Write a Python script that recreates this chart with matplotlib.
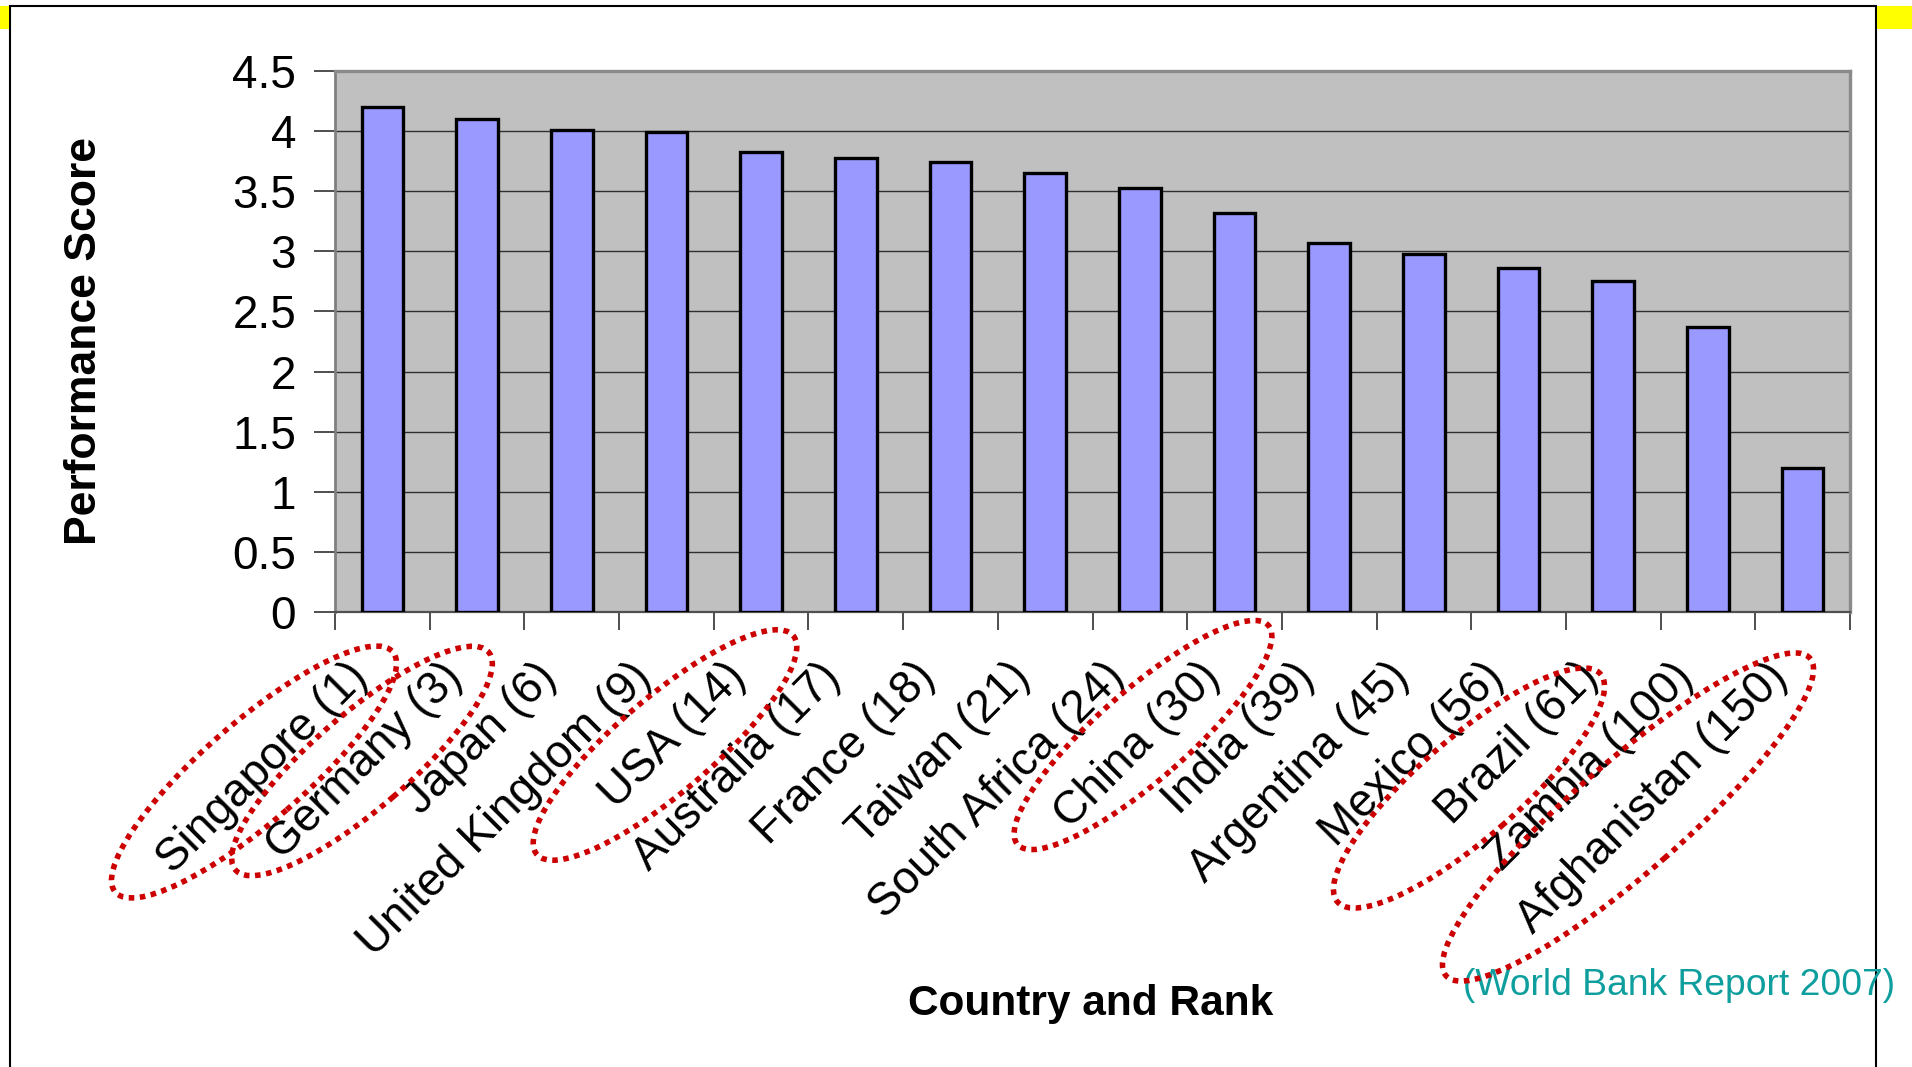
import matplotlib
matplotlib.use("Agg")
from matplotlib import pyplot as plt
from matplotlib.patches import Ellipse, Rectangle
from matplotlib.transforms import IdentityTransform
import numpy as np

countries = ['Singapore (1)', 'Germany (3)', 'Japan (6)', 'United Kingdom (9)', 'USA (14)',
             'Australia (17)', 'France (18)', 'Taiwan (21)', 'South Africa (24)', 'China (30)',
             'India (39)', 'Argentina (45)', 'Mexico (56)', 'Brazil (61)', 'Zambia (100)',
             'Afghanistan (150)']
scores = [4.20, 4.10, 4.01, 3.99, 3.83, 3.78, 3.74, 3.65, 3.53, 3.32,
          3.07, 2.98, 2.86, 2.75, 2.37, 1.20]
y_ticks = [0, 0.5, 1, 1.5, 2, 2.5, 3, 3.5, 4, 4.5]
y_tick_labels = ['0', '0.5', '1', '1.5', '2', '2.5', '3', '3.5', '4', '4.5']
source = '(World Bank Report 2007)'

W, H = 1912, 1067
plt.rcParams['font.family'] = ['Liberation Sans', 'DejaVu Sans']

fig = plt.figure(figsize=(W / 100, H / 100), dpi=100)
fig.patch.set_facecolor('white')
ax = fig.add_axes([335 / W, 1 - 612 / H, (1850 - 335) / W, (612 - 71) / H])
ax.set_facecolor('#C0C0C0')

x = np.arange(len(countries))
ax.bar(x, scores, width=0.44, color='#9999FF', edgecolor='black', linewidth=2.4, zorder=3)

ax.set_xlim(-0.5, len(countries) - 0.5)
ax.set_ylim(0, 4.5)
ax.set_yticks(y_ticks)
ax.set_yticklabels(y_tick_labels)
ax.set_xticks(np.arange(-0.5, len(countries), 1))
ax.set_xticklabels([])
ax.tick_params(axis='x', length=13, width=1.3, color='#404040', direction='out')
ax.tick_params(axis='y', length=15, width=1.3, color='#404040', direction='out',
               pad=13, labelsize=33)
ax.yaxis.grid(True, color='#303030', linewidth=1.0)
ax.set_axisbelow(True)

for side in ['top', 'right']:
    ax.spines[side].set_color('#8a8a8a')
    ax.spines[side].set_linewidth(2.4)
ax.spines['left'].set_color('#808080')
ax.spines['left'].set_linewidth(2.0)
ax.spines['bottom'].set_color('#505050')
ax.spines['bottom'].set_linewidth(1.6)

for i, name in enumerate(countries):
    ax.annotate(name, xy=(i, 0), xycoords='data', xytext=(-22, -58),
                textcoords='offset pixels', ha='right', va='center',
                rotation=45, rotation_mode='anchor', fontsize=33, annotation_clip=False)

fig.text(85 / W, 1 - 341 / H, 'Performance Score', rotation=90, ha='center', va='center',
         fontsize=32, fontweight='bold')
fig.text(1091 / W, 1 - 1015 / H, 'Country and Rank', ha='center', va='baseline',
         fontsize=30.5, fontweight='bold')
fig.text(1463 / W, 1 - 995 / H, source, ha='left', va='baseline', fontsize=26.8,
         color='#0E9E9E')

# red dotted ellipses (image pixel coords: cx, cy, length, thickness, angle)
rings = [(254, 772, 367, 100, 40.9), (362, 761, 334, 95, 40.7), (665, 745, 337, 95, 40.5),
         (1143, 735, 333, 90, 41.1), (1469, 788, 348, 100, 40.9), (1628, 817, 483, 110, 41.1)]
for cx, cy, w, h, ang in rings:
    fig.patches.append(Ellipse((cx, H - cy), w, h, angle=ang, fill=False, edgecolor='#CC0000',
                               linewidth=4, linestyle=(0, (1, 1)),
                               transform=IdentityTransform(), figure=fig, zorder=5))

# slide frame and yellow corners
fig.patches.append(Rectangle((10, -5), 1866, H - 6 + 5, fill=False, edgecolor='black',
                             linewidth=1.5, transform=IdentityTransform(), figure=fig))
fig.patches.append(Rectangle((0, H - 29), 9, 23, facecolor='#FFFF00', edgecolor='none',
                             transform=IdentityTransform(), figure=fig))
fig.patches.append(Rectangle((1877, H - 29), 35, 23, facecolor='#FFFF00', edgecolor='none',
                             transform=IdentityTransform(), figure=fig))

fig.savefig('out.png', dpi=100)
